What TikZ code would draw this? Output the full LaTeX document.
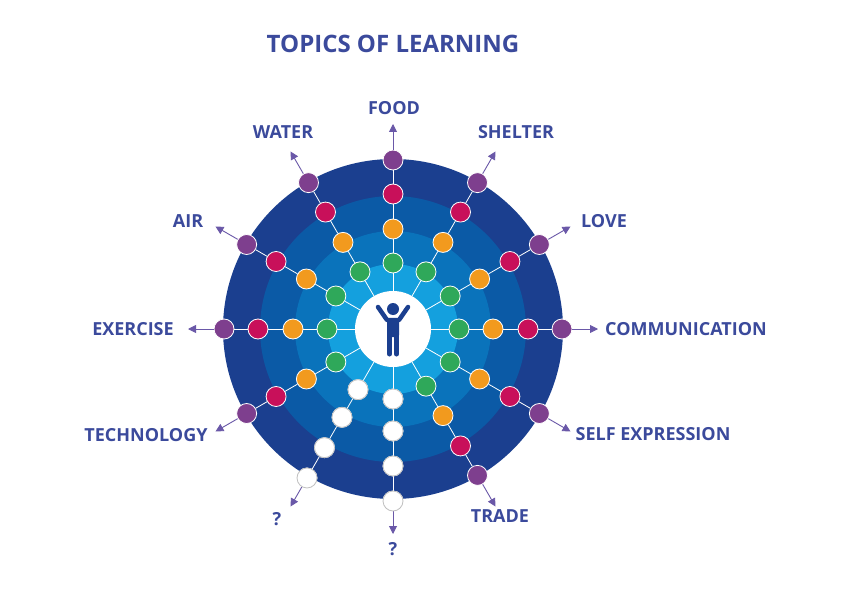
\documentclass[tikz,border=0pt]{standalone}
\usepackage{fontspec}
\setmainfont{Open Sans}
\usetikzlibrary{arrows.meta,calc}
\definecolor{lbl}{HTML}{3B4A9C}
\definecolor{r1}{HTML}{1B3F8F}
\definecolor{r2}{HTML}{0B5AA6}
\definecolor{r3}{HTML}{0A73BB}
\definecolor{r5}{HTML}{14A0DE}
\definecolor{cpur}{HTML}{7E3F8E}
\definecolor{cred}{HTML}{C8105A}
\definecolor{cora}{HTML}{F29A1E}
\definecolor{cgre}{HTML}{2FA85A}
\definecolor{carr}{HTML}{6A58A8}
\definecolor{fig}{HTML}{1B3F8F}
\tikzset{
 dot/.style={circle,draw=white,line width=0.8pt,minimum size=20pt,inner sep=0pt},
 lab/.style={text=lbl,font=\bfseries\fontsize{18}{20}\selectfont},
 spoke/.style={white,line width=0.8pt},
 arr/.style={carr,line width=0.9pt,-{Triangle[length=8pt,width=8pt]}}
}
\begin{document}
\begin{tikzpicture}[x=1pt,y=-1pt]
\useasboundingbox (0,0) rectangle (842,596);
\fill[white] (0,0) rectangle (842,596);
\coordinate (c) at (393,329);
\fill[r1] (c) circle (170);
\fill[r2] (c) circle (133);
\fill[r3] (c) circle (98);
\fill[r5] (c) circle (65);
\node[circle,fill=white,draw=none,minimum size=76pt,inner sep=0pt] (hub) at (c) {};
% figure
\fill[fig] (393,309) circle (6);
\draw[fig,line width=4.5pt,line cap=round,line join=round] (378,307) -- (387,320) -- (399,320) -- (408,307);
\fill[fig,rounded corners=2pt] (387,318) rectangle (399,337);
\draw[fig,line width=5pt,line cap=round] (389.5,335) -- (389.5,354) (396.5,335) -- (396.5,354);
% spokes
\foreach \a/\ca/\cb/\cc/\cd/\nm/\ra/\rb/\rc/\rd in {
 90/cgre/cora/cred/cpur/s1/66/100/135/169, 60/cgre/cora/cred/cpur/s2/66/100/135/169,
 30/cgre/cora/cred/cpur/s3/66/100/135/169, 0/cgre/cora/cred/cpur/s4/66/100/135/169,
 -30/cgre/cora/cred/cpur/s5/66/100/135/169, -60/cgre/cora/cred/cpur/s6/66/100/135/169,
 -90/white/white/white/white/s7/70/102/137/172, -120/white/white/white/white/s8/70/102/137/172,
 -150/cgre/cora/cred/cpur/s9/66/100/135/169, 180/cgre/cora/cred/cpur/s10/66/100/135/169,
 150/cgre/cora/cred/cpur/s11/66/100/135/169, 120/cgre/cora/cred/cpur/s12/66/100/135/169}{
 \coordinate (\nm t) at ($(c)+(\a:205 and -205)$);
 \node[dot,fill=\ca] (\nm a) at ($(c)+(\a:{\ra} and {-\ra})$) {};
 \node[dot,fill=\cb] (\nm b) at ($(c)+(\a:{\rb} and {-\rb})$) {};
 \node[dot,fill=\cc] (\nm c) at ($(c)+(\a:{\rc} and {-\rc})$) {};
 \node[dot,fill=\cd] (\nm d) at ($(c)+(\a:{\rd} and {-\rd})$) {};
 \draw[spoke] (hub) -- (\nm a) (\nm a) -- (\nm b) (\nm b) -- (\nm c) (\nm c) -- (\nm d);
 \draw[arr] (\nm d) -- (\nm t);
}
\foreach \nm in {s7,s8}{
 \foreach \k in {a,b,c,d}{\node[dot,fill=white,draw=gray!50] at (\nm\k) {};}
}
\node[lab,font=\bfseries\fontsize{24}{26}\selectfont] (title) at (393,44) {TOPICS OF LEARNING};
\node[lab] (l1) at (394,108) {FOOD};
\node[lab] (l12) at (283,132) {WATER};
\node[lab] (l2) at (516,132) {SHELTER};
\node[lab] (l11) at (188,221) {AIR};
\node[lab] (l3) at (604,221) {LOVE};
\node[lab] (l10) at (133,329) {EXERCISE};
\node[lab] (l4) at (686,329) {COMMUNICATION};
\node[lab] (l9) at (146,435) {TECHNOLOGY};
\node[lab] (l5) at (653,434) {SELF EXPRESSION};
\node[lab] (l8) at (277,519) {?};
\node[lab] (l6) at (500,516) {TRADE};
\node[lab] (l7) at (393,549) {?};
\end{tikzpicture}
\end{document}
